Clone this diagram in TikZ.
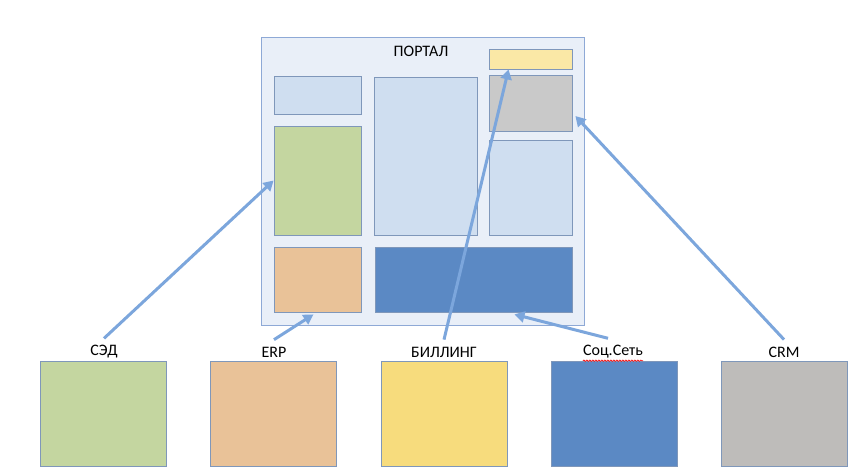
\documentclass[tikz,border=0pt]{standalone}
\usepackage{fontspec}
\setmainfont{Carlito}
\usepackage{tikz}
\usetikzlibrary{arrows.meta}
\usetikzlibrary{decorations.pathmorphing}
\definecolor{portalfill}{RGB}{233,239,248}
\definecolor{portaldraw}{RGB}{142,169,214}
\definecolor{boxdraw}{RGB}{127,151,186}
\definecolor{lightblue}{RGB}{207,222,240}
\definecolor{darkblue}{RGB}{91,137,196}
\definecolor{sedgreen}{RGB}{196,214,160}
\definecolor{erporange}{RGB}{233,194,152}
\definecolor{lightyellow}{RGB}{250,232,166}
\definecolor{billyellow}{RGB}{247,220,125}
\definecolor{lightgray}{RGB}{201,201,201}
\definecolor{crmgray}{RGB}{190,188,186}
\definecolor{linkblue}{RGB}{124,166,220}
\tikzset{
  part_box/.style = {rectangle, draw=boxdraw, line width=0.8pt,
    inner sep=0pt},% bloc du portail
  portal_box/.style = {part_box, draw=portaldraw, fill=portalfill,
    minimum width=323pt, minimum height=288pt},% cadre du portail
  src_box/.style = {part_box, minimum width=126pt, minimum height=105pt},% systeme source
  src_label/.style = {font=\fontsize{16}{19}\selectfont, inner sep=0pt},% nom du systeme
  link_arrow/.style = {draw=linkblue, line width=3pt,
    -{Triangle[length=10pt,width=11pt]}}% lien vers le portail
}
\begin{document}
\begin{tikzpicture}[x=1pt, y=-1pt]
  \useasboundingbox (0,0) rectangle (859,476);
  % portail
  \node [portal_box] (portal) at (422.5,181) {};
  \node [src_label] (title) at (421,51) {ПОРТАЛ};
  \node [part_box, fill=lightblue, minimum width=87pt, minimum height=38pt] (topleft) at (317.5,95) {};
  \node [part_box, fill=sedgreen, minimum width=87pt, minimum height=109pt] (green) at (317.5,180.5) {};
  \node [part_box, fill=erporange, minimum width=87pt, minimum height=65pt] (orange) at (317.5,279.5) {};
  \node [part_box, fill=lightblue, minimum width=103pt, minimum height=158pt] (middle) at (425.5,156) {};
  \node [part_box, fill=darkblue, minimum width=197pt, minimum height=65pt] (wide) at (473.5,279.5) {};
  \node [part_box, fill=lightyellow, minimum width=83pt, minimum height=20pt] (yellow) at (530.5,59) {};
  \node [part_box, fill=lightgray, minimum width=83pt, minimum height=56pt] (gray) at (530.5,103) {};
  \node [part_box, fill=lightblue, minimum width=83pt, minimum height=95pt] (right) at (530.5,187.5) {};
  % systemes
  \node [src_box, fill=sedgreen] (sed) at (103,413.5) {};
  \node [src_box, fill=erporange] (erp) at (273,413.5) {};
  \node [src_box, fill=billyellow] (bill) at (444,413.5) {};
  \node [src_box, fill=darkblue] (soc) at (614,413.5) {};
  \node [src_box, fill=crmgray] (crm) at (784,413.5) {};
  \node [src_label] (sed_l) at (104,352) {СЭД};
  \node [src_label] (erp_l) at (274,352) {ERP};
  \node [src_label] (bill_l) at (444,352) {БИЛЛИНГ};
  \node [src_label] (soc_l) at (613,352) {Соц.Сеть};
  \node [src_label] (crm_l) at (784,352) {CRM};
  \draw [red, line width=0.6pt, decorate, decoration={snake, amplitude=0.7pt, segment length=3pt}]
    ([yshift=-2pt]soc_l.south west) -- ([yshift=-2pt]soc_l.south east);
  % liens
  \draw [link_arrow] ([yshift=7pt]sed_l.north) -- (green.west);
  \draw [link_arrow] ([yshift=7pt]erp_l.north) -- ([xshift=-4pt, yshift=-2pt]orange.south);
  \draw [link_arrow] ([yshift=7pt]bill_l.north) -- ([xshift=-22pt]yellow.south);
  \draw [link_arrow] ([xshift=-5pt, yshift=7pt]soc_l.north) -- ([xshift=41pt, yshift=-2pt]wide.south);
  \draw [link_arrow] ([yshift=7pt]crm_l.north) -- ([xshift=3pt, yshift=-13pt]gray.east);
\end{tikzpicture}
\end{document}
